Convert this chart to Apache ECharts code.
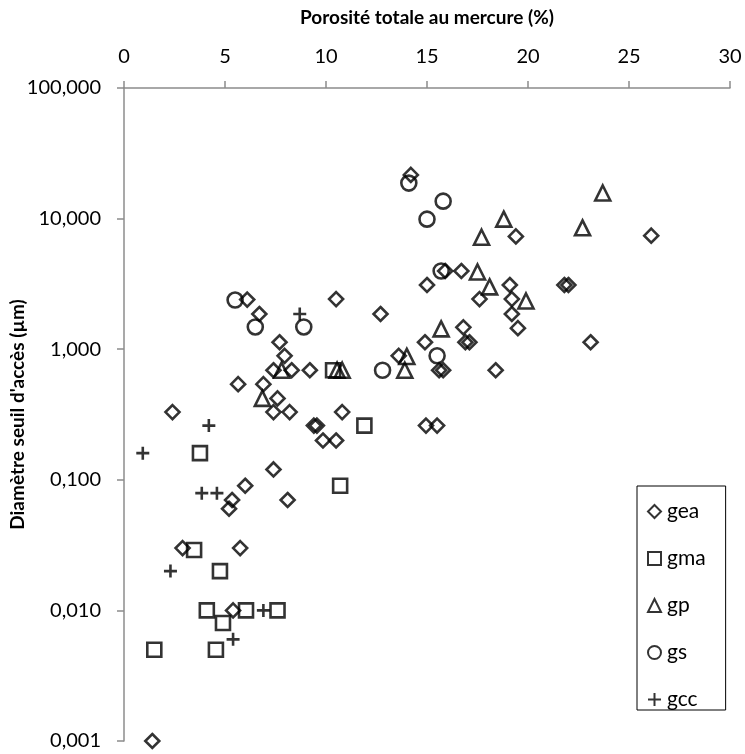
<!DOCTYPE html>
<html>
<head>
<meta charset="utf-8">
<script src="https://cdn.jsdelivr.net/npm/echarts@6/dist/echarts.min.js"></script>
<style>
  html, body { margin: 0; padding: 0; background: #fff; }
  #chart { width: 745px; height: 754px; }
</style>
</head>
<body>
<div id="chart"></div>
<script>
// porosité (%) , diamètre seuil (µm)
const gea = [
  [14.2, 21.6], [26.1, 7.4], [19.4, 7.3], [21.8, 3.1], [22.0, 3.1],
  [10.5, 2.42], [12.7, 1.86], [15.0, 3.1], [15.9, 3.97], [16.7, 3.97],
  [19.1, 3.1], [17.6, 2.42], [19.2, 2.42], [19.2, 1.86], [19.5, 1.45],
  [16.8, 1.47], [16.9, 1.13], [17.1, 1.13], [14.9, 1.13], [13.6, 0.89],
  [15.6, 0.69], [15.8, 0.69], [18.4, 0.69], [23.1, 1.13], [10.8, 0.33],
  [10.5, 0.20], [14.95, 0.26], [15.5, 0.26], [6.1, 2.4], [6.7, 1.86],
  [7.7, 1.13], [7.95, 0.89], [7.4, 0.69], [8.3, 0.69], [9.2, 0.69],
  [5.65, 0.54], [6.9, 0.54], [7.6, 0.42], [2.4, 0.33], [7.4, 0.33],
  [8.2, 0.33], [9.4, 0.26], [9.55, 0.26], [9.85, 0.20], [7.4, 0.12],
  [6.0, 0.09], [5.35, 0.07], [5.2, 0.06], [8.1, 0.07], [2.9, 0.03],
  [5.75, 0.03], [5.4, 0.01], [1.4, 0.001]
]
const gma = [
  [3.76, 0.16], [10.7, 0.09], [11.9, 0.26], [3.47, 0.029], [4.75, 0.02],
  [4.1, 0.01], [4.9, 0.008], [6.04, 0.01], [7.6, 0.01], [1.5, 0.005],
  [4.55, 0.005], [10.35, 0.69]
]
const gp = [
  [23.7, 15.7], [22.7, 8.5], [18.8, 9.9], [17.7, 7.2], [17.5, 3.9],
  [18.1, 3.0], [19.9, 2.34], [15.7, 1.43], [14.0, 0.88], [13.9, 0.69],
  [7.8, 0.69], [6.85, 0.42], [10.55, 0.69], [10.8, 0.69]
]
const gs = [
  [14.1, 18.7], [15.8, 13.6], [15.0, 9.9], [15.7, 3.97], [15.5, 0.89],
  [12.8, 0.69], [5.5, 2.38], [6.5, 1.48], [8.9, 1.48]
]
const gcc = [
  [8.7, 1.86], [4.2, 0.26], [0.93, 0.16], [3.85, 0.079], [4.6, 0.079],
  [2.3, 0.02], [6.9, 0.01], [5.4, 0.006]
]

const font = 'Lato, "Open Sans", sans-serif'
const axisGrey = '#8c8c8c'

function serie(name, data, symbol, size) {
  return {
    name: name,
    type: 'scatter',
    data: data,
    symbol: symbol,
    symbolSize: size,
    itemStyle: {
      color: 'rgba(0,0,0,0)',
      borderColor: '#000',
      borderWidth: 2.6
    },
    emphasis: { disabled: true }
  }
}

const chart = echarts.init(document.getElementById('chart'))
chart.setOption({
  animation: false,
  textStyle: { fontFamily: font, color: '#000' },
  grid: { left: 124, right: 15, top: 88, bottom: 13, containLabel: false, outerBoundsMode: 'none' },
  legend: {
    orient: 'vertical',
    left: 637,
    top: 486,
    padding: [15, 20, 0, 10],
    itemGap: 26,
    itemWidth: 13,
    itemHeight: 13,
    borderColor: '#000',
    borderWidth: 1,
    textStyle: { fontFamily: font, fontSize: 21, color: '#000', padding: [0, 0, 0, 1] },
    data: ['gea', 'gma', 'gp', 'gs', 'gcc']
  },
  xAxis: {
    type: 'value',
    position: 'top',
    min: 0,
    max: 30,
    interval: 5,
    name: 'Porosité totale au mercure (%)',
    nameLocation: 'middle',
    nameGap: 61,
    nameMoveOverlap: false,
    nameTextStyle: { fontFamily: font, fontSize: 19, fontWeight: 'bold', color: '#000' },
    axisLine: { show: true, lineStyle: { color: axisGrey, width: 1.5 } },
    axisTick: { show: true, length: 7, lineStyle: { color: axisGrey, width: 1.5 } },
    axisLabel: { fontFamily: font, fontSize: 20, color: '#000', margin: 21 },
    splitLine: { show: false }
  },
  yAxis: {
    type: 'log',
    logBase: 10,
    min: 0.001,
    max: 100,
    name: "Diamètre seuil d'accès (µm)",
    nameLocation: 'middle',
    nameGap: 97,
    nameMoveOverlap: false,
    nameTextStyle: { fontFamily: font, fontSize: 19, fontWeight: 'bold', color: '#000' },
    axisLine: { show: true, lineStyle: { color: axisGrey, width: 1.5 } },
    axisTick: { show: true, length: 7, lineStyle: { color: axisGrey, width: 1.5 } },
    axisLabel: {
      fontFamily: font,
      fontSize: 20,
      color: '#000',
      margin: 23,
      formatter: v => v.toFixed(3).replace('.', ',')
    },
    splitLine: { show: false },
    minorTick: { show: false }
  },
  series: [
    serie('gea', gea, 'diamond', 14),
    serie('gma', gma, 'rect', 14),
    serie('gp', gp, 'triangle', 15),
    serie('gs', gs, 'circle', 15),
    serie('gcc', gcc, 'path://M5,0 L5,10 M0,5 L10,5', 13)
  ]
})
</script>
</body>
</html>
